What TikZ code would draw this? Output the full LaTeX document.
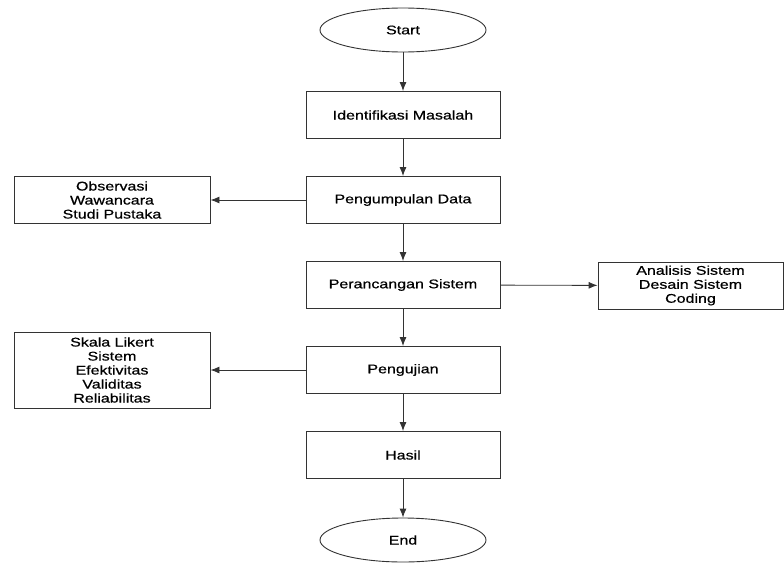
\documentclass[tikz,border=0pt]{standalone}
\usepackage{fontspec}
\setmainfont[FakeStretch = 1.27, FakeBold = 0.6]{Liberation Sans}
\usetikzlibrary{arrows, shapes}
\usetikzlibrary{arrows.meta}
\tikzset{>={Latex[length = 9pt, width = 7pt]}}
\definecolor{mygray1}{RGB}{51, 51, 51}

\begin{document}
\begin{tikzpicture}[x = 1pt, y = -1pt, line width = 0.9pt,
  box/.style = {draw = mygray1, rectangle, minimum width = 194pt, minimum height = 47pt, inner sep = 0pt},
  note/.style = {draw = mygray1, rectangle, inner sep = 0pt, align = center},
  term/.style = {draw = mygray1, ellipse, minimum width = 166pt, minimum height = 44pt, inner sep = 0pt},
  font = \fontsize{12.6}{14}\selectfont]
\useasboundingbox (0,0) rectangle (784,565);
\node[term] (start) at (403, 30) {Start};
\node[box] (ident) at (403, 115) {Identifikasi Masalah};
\node[box] (kumpul) at (403, 200) {Pengumpulan Data};
\node[box] (ranc) at (403, 285) {Perancangan Sistem};
\node[box] (uji) at (403, 370) {Pengujian};
\node[box] (hasil) at (403, 455) {Hasil};
\node[term] (end) at (403, 540) {End};
\node[note, minimum width = 196pt, minimum height = 47pt] (obs) at (112, 200) {Observasi\\Wawancara\\Studi Pustaka};
\node[note, minimum width = 185pt, minimum height = 47pt] (anal) at (690.5, 285.5) {Analisis Sistem\\Desain Sistem\\Coding};
\node[note, minimum width = 196pt, minimum height = 76pt] (likert) at (112, 370) {Skala Likert\\Sistem\\Efektivitas\\Validitas\\Reliabilitas};
\draw[->, mygray1] (start) -- (ident);
\draw[->, mygray1] (ident) -- (kumpul);
\draw[->, mygray1] (kumpul) -- (ranc);
\draw[->, mygray1] (ranc) -- (uji);
\draw[->, mygray1] (uji) -- (hasil);
\draw[->, mygray1] (hasil) -- (end);
\draw[->, mygray1] (kumpul) -- (obs);
\draw[->, mygray1] (ranc) -- (anal);
\draw[->, mygray1] (uji) -- (likert);
\end{tikzpicture}
\end{document}
